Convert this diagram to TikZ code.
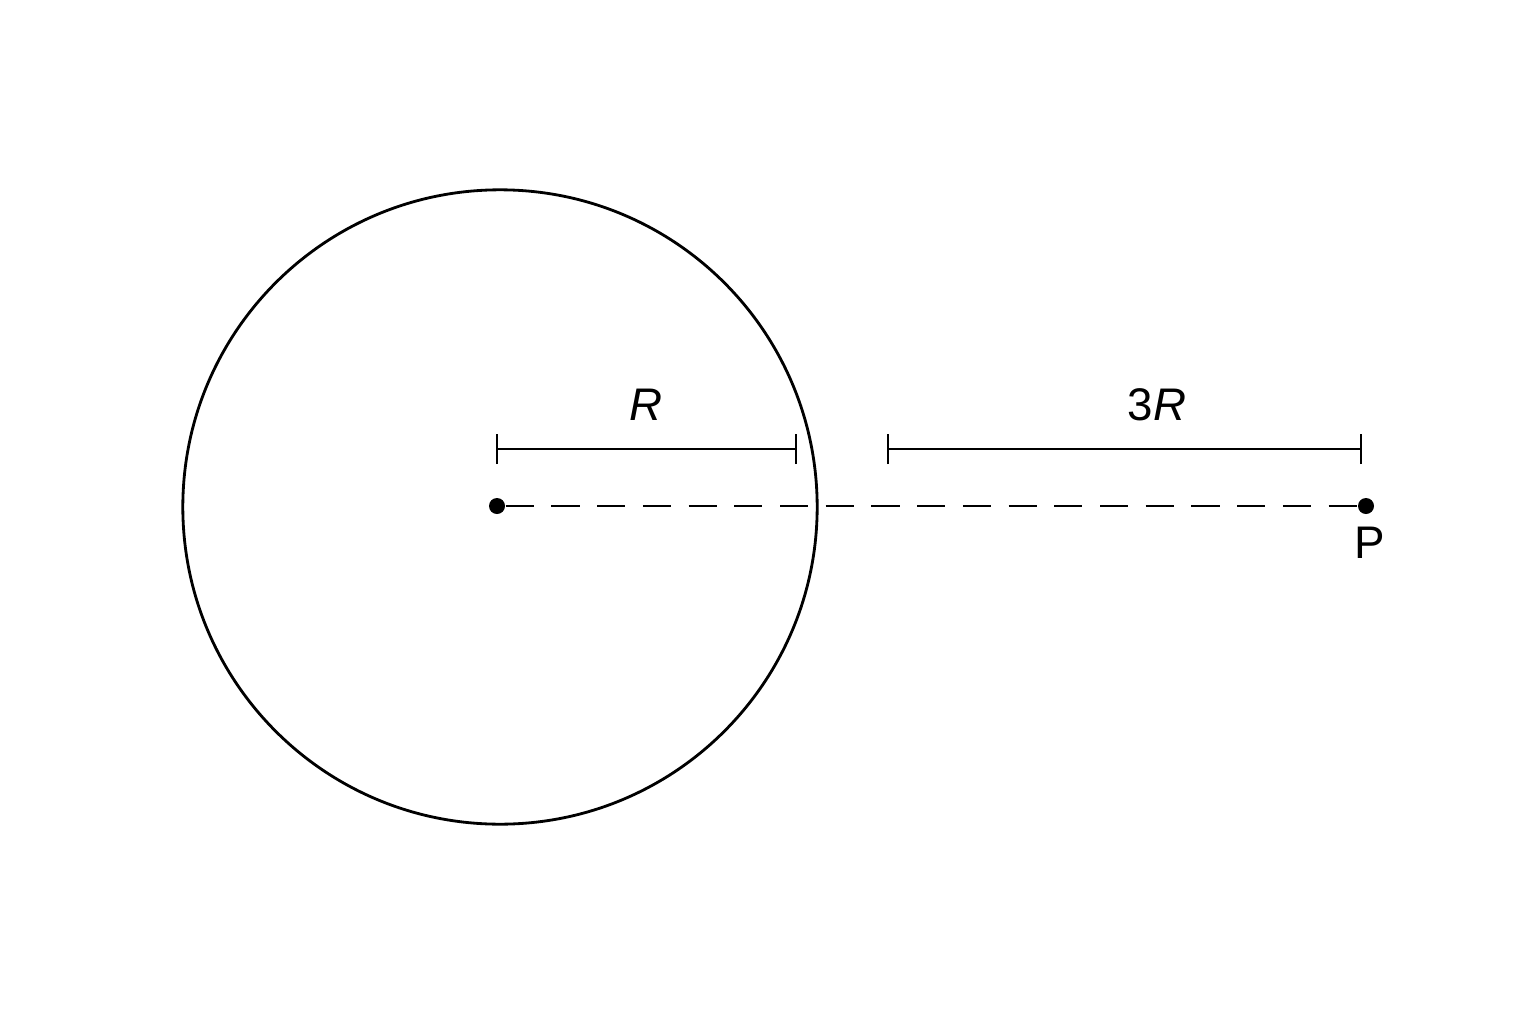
\documentclass[tikz,border=0pt]{standalone}
\usepackage{fontspec}
\setmainfont{Liberation Sans}
\begin{document}
\begin{tikzpicture}[x=0.01cm,y=-0.01cm,
  ln/.style={line width=0.8pt,black},
  dot/.style={circle,fill=black,inner sep=0pt,minimum size=0.16cm},
  lbl/.style={font=\fontsize{13}{15}\selectfont,inner sep=0pt}]
\useasboundingbox (0,0) rectangle (1536,1024);
\node[draw,ln,circle,minimum size=6.34cm,inner sep=0pt] (circ) at (500,507) {};
\node[dot] (O) at (497,506) {};
\node[dot] (P) at (1366,506) {};
\draw[ln,dashed,dash pattern=on 8pt off 5pt] (O) -- (P);
\node[lbl] (pl) at (1370,543) {P};
\coordinate (a1) at (497,449); \coordinate (a2) at (796,449);
\coordinate (b1) at (888,449); \coordinate (b2) at (1361,449);
\draw[ln] (a1) -- (a2);
\draw[ln] ([yshift=-0.15cm]a1) -- ([yshift=0.15cm]a1);
\draw[ln] ([yshift=-0.15cm]a2) -- ([yshift=0.15cm]a2);
\draw[ln] (b1) -- (b2);
\draw[ln] ([yshift=-0.15cm]b1) -- ([yshift=0.15cm]b1);
\draw[ln] ([yshift=-0.15cm]b2) -- ([yshift=0.15cm]b2);
\node[lbl] (rl) at (646,405) {\textit{R}};
\node[lbl] (r3) at (1157,405) {3\textit{R}};
\end{tikzpicture}
\end{document}
